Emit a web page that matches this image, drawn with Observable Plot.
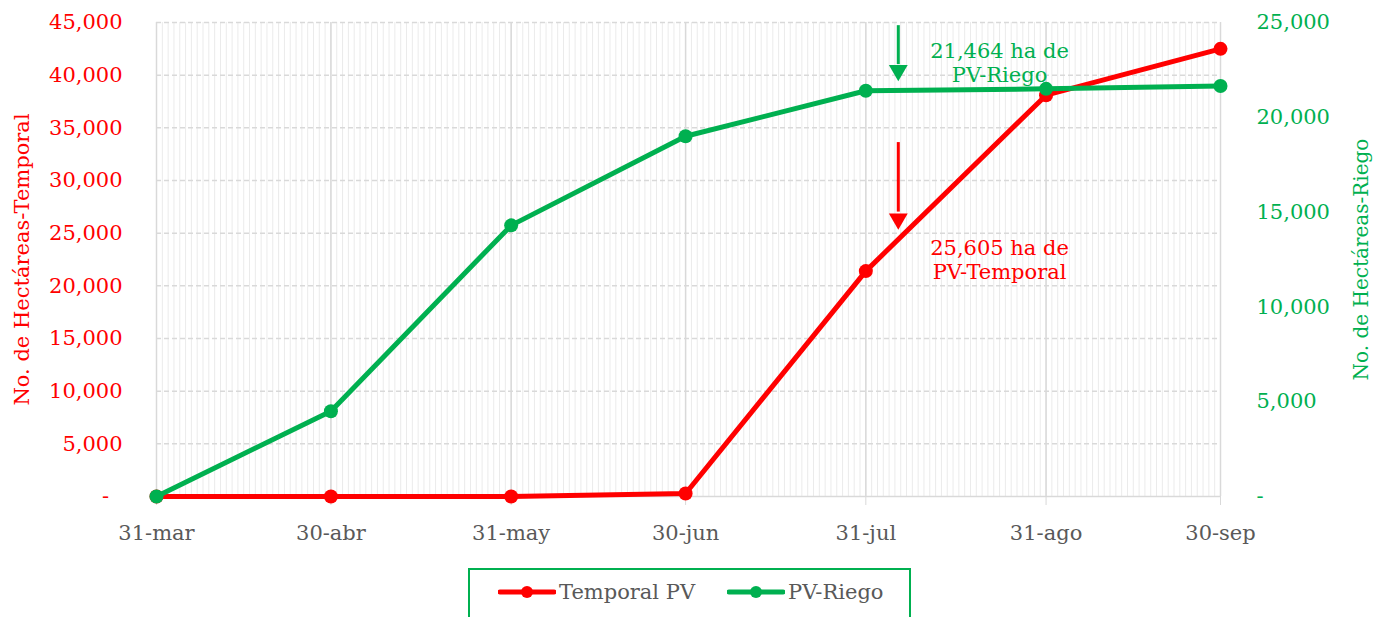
<!DOCTYPE html>
<html>
<head>
<meta charset="utf-8">
<script src="https://cdn.jsdelivr.net/npm/d3@7"></script>
<script src="https://cdn.jsdelivr.net/npm/@observablehq/plot@0.6"></script>
<style>
  body { margin: 0; background: white; font-family: "DejaVu Serif", serif; }
  #wrap { position: relative; width: 1373px; height: 617px; overflow: hidden; }
  #legend { position: absolute; left: 468px; top: 568px; width: 443px; height: 70px; box-sizing: border-box; border: 2px solid #00B050; }
  .item { position: absolute; top: 10px; display: flex; align-items: center; font-size: 21px; color: #595959; }
</style>
</head>
<body>
<div id="wrap"></div>
<script>
// ---- data ----
const dateStrings = ["2023-03-31", "2023-04-30", "2023-05-31", "2023-06-30", "2023-07-31", "2023-08-31", "2023-09-30"];
const xLabels = ["31-mar", "30-abr", "31-may", "30-jun", "31-jul", "31-ago", "30-sep"];
const temporal = [0, 0, 0, 280, 21400, 38100, 42500];      // left axis
const riego = [0, 4500, 14300, 19000, 21400, 21500, 21650]; // right axis
const leftTicks = [0, 5000, 10000, 15000, 20000, 25000, 30000, 35000, 40000, 45000];
const rightTicks = [0, 5000, 10000, 15000, 20000, 25000];
const leftTitle = "No. de Hectáreas-Temporal";
const rightTitle = "No. de Hectáreas-Riego";
const seriesNames = ["Temporal PV", "PV-Riego"];
// annotations (dates and left-axis values)
const annDate = "2023-08-05T14:00";
const annTextDate = "2023-08-23T00:00";
const riegoArrow = [44700, 41000, 39300];   // shaft top, head base, tip
const temporalArrow = [33600, 27000, 25100];
const riegoNote = "21,464 ha de\nPV-Riego";
const riegoNoteY = 41200;
const temporalNote = "25,605 ha de\nPV-Temporal";
const temporalNoteY = 22500;

const RED = "#FF0000", GREEN = "#00B050";
const parse = d3.utcParse("%Y-%m-%d");
const parseT = d3.utcParse("%Y-%m-%dT%H:%M");
const dates = dateStrings.map(parse);
const k = 45000 / 25000;
const labelMap = new Map(dates.map((d, i) => [+d, xLabels[i]]));
const fmt = d3.format(",");
const days = d3.utcDay.range(dates[0], d3.utcDay.offset(dates[dates.length - 1], 1));
const tData = dates.map((d, i) => ({date: d, v: temporal[i]}));
const rData = dates.map((d, i) => ({date: d, v: riego[i] * k}));
const aD = parseT(annDate), tD = parseT(annTextDate);

const chart = Plot.plot({
  width: 1373, height: 560,
  marginLeft: 156, marginRight: 153, marginTop: 22, marginBottom: 64,
  style: {fontFamily: "DejaVu Serif", fontSize: "21px", background: "white", overflow: "visible"},
  x: {type: "utc", domain: [dates[0], dates[dates.length - 1]]},
  y: {domain: [0, 45000]},
  marks: [
    Plot.ruleX(days, {stroke: "#ebebeb", strokeWidth: 1}),
    Plot.ruleY(leftTicks.filter(d => d > 0), {stroke: "#d9d9d9", strokeWidth: 1.5, strokeDasharray: "5,3"}),
    Plot.ruleX(dates, {stroke: "#d9d9d9", strokeWidth: 1.5}),
    Plot.ruleY([0], {stroke: "#d9d9d9", strokeWidth: 1.5}),
    Plot.axisX({ticks: dates, tickFormat: d => labelMap.get(+d), tickSize: 9, tickPadding: 20, stroke: "#d9d9d9", fill: "#595959", fontSize: 21, label: null}),
    Plot.axisY({anchor: "left", ticks: leftTicks, tickFormat: d => d === 0 ? "-\u00a0\u00a0" : fmt(d), tickSize: 0, tickPadding: 34, color: RED, fontSize: 21, label: null}),
    Plot.axisY({anchor: "right", ticks: rightTicks.map(d => d * k), tickFormat: d => d === 0 ? "-" : fmt(Math.round(d / k)), tickSize: 0, tickPadding: 36, color: GREEN, fontSize: 21, label: null}),
    Plot.text([leftTitle], {frameAnchor: "left", dx: -134, rotate: -90, textAnchor: "middle", fill: RED, fontSize: 21}),
    Plot.text([rightTitle], {frameAnchor: "right", dx: 141, rotate: -90, textAnchor: "middle", fill: GREEN, fontSize: 20}),
    Plot.line(tData, {x: "date", y: "v", stroke: RED, strokeWidth: 5}),
    Plot.dot(tData, {x: "date", y: "v", r: 7, fill: RED}),
    Plot.line(rData, {x: "date", y: "v", stroke: GREEN, strokeWidth: 5}),
    Plot.dot(rData, {x: "date", y: "v", r: 7, fill: GREEN}),
    // arrows
    Plot.ruleX([aD], {y1: riegoArrow[0], y2: riegoArrow[1], stroke: GREEN, strokeWidth: 3}),
    Plot.dot([aD], {x: d => d, y: (riegoArrow[1] + riegoArrow[2]) / 2 + 300, symbol: "triangle", rotate: 180, r: 7, fill: GREEN}),
    Plot.ruleX([aD], {y1: temporalArrow[0], y2: temporalArrow[1], stroke: RED, strokeWidth: 3}),
    Plot.dot([aD], {x: d => d, y: (temporalArrow[1] + temporalArrow[2]) / 2 + 300, symbol: "triangle", rotate: 180, r: 7, fill: RED}),
    Plot.text([riegoNote], {x: tD, y: riegoNoteY, fill: GREEN, fontSize: 21, lineHeight: 1.15}),
    Plot.text([temporalNote], {x: tD, y: temporalNoteY, fill: RED, fontSize: 21, lineHeight: 1.15})
  ]
});
const wrap = document.getElementById("wrap");
wrap.appendChild(chart);

// legend
const legend = document.createElement("div");
legend.id = "legend";
const colors = [RED, GREEN];
const lefts = [28, 257];
seriesNames.forEach((name, i) => {
  const item = document.createElement("div");
  item.className = "item";
  item.style.left = lefts[i] + "px";
  item.innerHTML = `<svg width="58" height="20"><line x1="2" y1="10" x2="56" y2="10" stroke="${colors[i]}" stroke-width="5" stroke-linecap="round"/><circle cx="29" cy="10" r="6" fill="${colors[i]}"/></svg><span style="margin-left:3px">${name}</span>`;
  legend.appendChild(item);
});
wrap.appendChild(legend);
</script>
</body>
</html>
